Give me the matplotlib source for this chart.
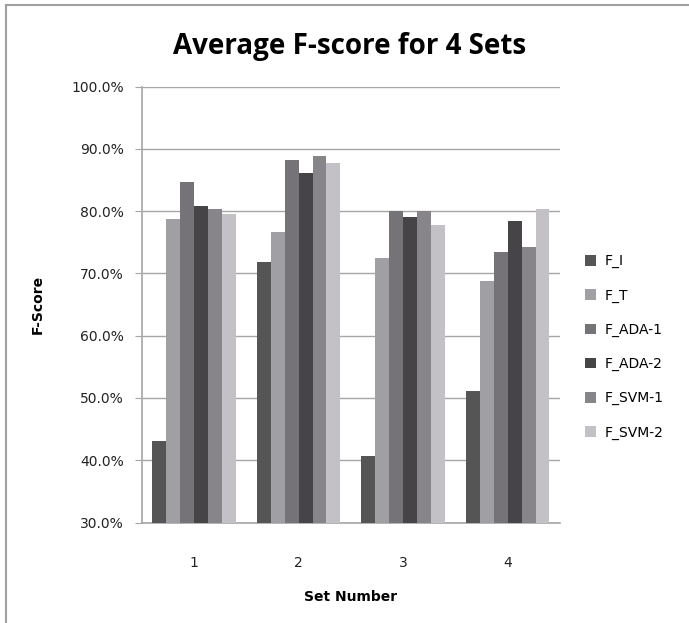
import numpy as np
import matplotlib
matplotlib.use('Agg')
import matplotlib.pyplot as plt
from matplotlib.ticker import FuncFormatter

# Average F-score per set, one list per method (percent)
sets = ['1', '2', '3', '4']
series_names = ['F_I', 'F_T', 'F_ADA-1', 'F_ADA-2', 'F_SVM-1', 'F_SVM-2']
f_i = [43.1, 71.8, 40.7, 51.2]
f_t = [78.7, 76.6, 72.5, 68.8]
f_ada1 = [84.7, 88.3, 80.0, 73.4]
f_ada2 = [80.8, 86.1, 79.0, 78.5]
f_svm1 = [80.4, 88.9, 80.0, 74.3]
f_svm2 = [79.5, 87.8, 77.8, 80.4]
colors = ['#555555', '#a09fa3', '#757378', '#464446', '#878589', '#c3c1c5']

values = [f_i, f_t, f_ada1, f_ada2, f_svm1, f_svm2]

fig = plt.figure(figsize=(6.89, 6.23), dpi=100)
ax = fig.add_axes([0.2057, 0.1613, 0.607, 0.6995])

x = np.arange(len(sets))
n = len(values)
bar_w = 0.8 / n
for i, (name, vals, c) in enumerate(zip(series_names, values, colors)):
    offs = (i - (n - 1) / 2) * bar_w
    ax.bar(x + offs, vals, width=bar_w, color=c, label=name, zorder=3)

ax.set_xlim(-0.5, len(sets) - 0.5)
ax.set_ylim(30, 100)
ax.set_yticks(np.arange(30, 101, 10))
ax.yaxis.set_major_formatter(FuncFormatter(lambda v, p: f'{v:.1f}%'))
ax.set_xticks(x)
ax.set_xticklabels(sets)

grid_c = '#a6a6a6'
ax.grid(axis='y', color=grid_c, lw=1, zorder=0)
for s in ['top', 'right']:
    ax.spines[s].set_visible(False)
for s in ['left', 'bottom']:
    ax.spines[s].set_color(grid_c)
    ax.spines[s].set_linewidth(1.2)
ax.tick_params(axis='y', length=5, color=grid_c, labelsize=10, pad=8, labelcolor='#222222')
ax.tick_params(axis='x', length=0, labelsize=10, pad=24, labelcolor='#222222')

ax.set_ylabel('F-Score', fontsize=10, fontweight='bold')
ax.yaxis.set_label_coords(-0.231, 0.5)
ax.set_xlabel('Set Number', fontsize=10, fontweight='bold')
ax.xaxis.set_label_coords(0.5, -0.155)
fig.text(0.508, 0.926, 'Average F-score for 4 Sets', ha='center', va='center',
         fontsize=20, fontweight='bold', family='Open Sans')

ax.legend(loc='center left', bbox_to_anchor=(1.03, 0.403), frameon=False,
          fontsize=10, handlelength=0.8, handleheight=0.8, labelspacing=1.45,
          handletextpad=0.6)

# outer chart frame (left and top edges)
fig.add_artist(plt.Line2D([0.008, 0.008], [0.0, 0.992], color='#a0a0a0', lw=1.5,
                          transform=fig.transFigure))
fig.add_artist(plt.Line2D([0.008, 1.0], [0.992, 0.992], color='#a0a0a0', lw=1.5,
                          transform=fig.transFigure))

fig.savefig('out.png', dpi=100)
